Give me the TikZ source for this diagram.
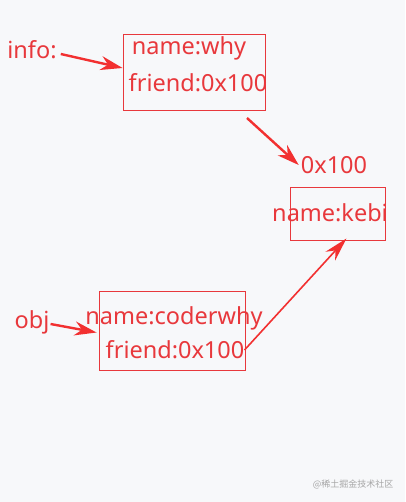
\documentclass[tikz,border=0pt]{standalone}
\usepackage{fontspec}
\setmainfont{Noto Sans}
\newfontfamily\cjkfont{Noto Sans CJK SC}
\usetikzlibrary{arrows.meta, positioning, calc}
\definecolor{memred}{RGB}{232,56,60}
\definecolor{arrowred}{RGB}{242,48,48}
\definecolor{pagebg}{RGB}{247,248,250}

\begin{document}
\begin{tikzpicture}[
  x=1pt, y=1pt,
  txt/.style = {text=memred, inner sep=0pt,
    font=\fontsize{23.5}{27}\selectfont},
  objbox/.style = {rectangle, draw=memred, line width=0.9pt,
    inner sep=0pt},
  arrow/.style = {-{Stealth[length=22pt, width=14pt]}, arrowred,
    line width=2.4pt},
  thinarrow/.style = {-{Stealth[length=24pt, width=13pt]}, arrowred,
    line width=1.6pt},
]
% Background
\fill[pagebg] (0,0) rectangle (405,-502);
\useasboundingbox (0,0) rectangle (405,-502);

% Object boxes
\node[objbox, minimum width=142pt, minimum height=76pt] (why) at (194,-72) {};
\node[objbox, minimum width=95pt, minimum height=53pt] (kebi) at (337.5,-213.5) {};
\node[objbox, minimum width=146pt, minimum height=79pt] (coder) at (172,-330.5) {};

% Box contents
\node[txt] (whyname) at (189,-48) {name:why};
\node[txt] (whyfriend) at (198,-83) {friend:0x100};
\node[txt] (kebiname) at (330,-213) {name:kebi};
\node[txt] (codername) at (174,-318) {name:coderwhy};
\node[txt] (coderfriend) at (175,-350) {friend:0x100};

% Variables and address
\node[txt] (info) at (32,-50) {info:};
\node[txt] (obj) at (32,-322) {obj};
\node[txt] (addr) at (334,-165) {0x100};
\coordinate (whyout) at (247,-118);

% Arrows
\draw[arrow] ([xshift=4pt,yshift=-4pt]info.east) -- ([yshift=4pt]why.west);
\draw[arrow] ([xshift=1pt,yshift=-2pt]obj.east) -- ([xshift=-2pt,yshift=-2pt]coder.west);
\draw[arrow] (whyout) -- ([xshift=-2pt]addr.west);
\draw[thinarrow] (coderfriend.east) -- ([xshift=9pt,yshift=2pt]kebi.south);

% Watermark
\node[text=gray!70, inner sep=0pt, font=\cjkfont\fontsize{9}{11}\selectfont]
  (mark) at (353,-484) {@稀土掘金技术社区};
\end{tikzpicture}
\end{document}
